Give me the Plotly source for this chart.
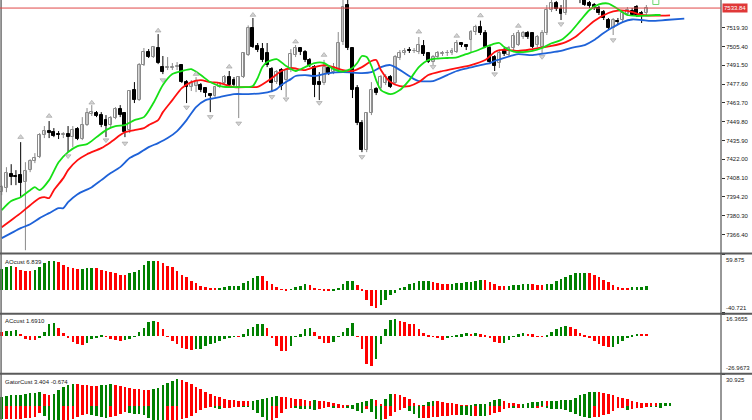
import plotly.graph_objects as go

# ---------------- price data (bar index 0..136) ----------------
opens = [7397.7,7400.7,7411.0,7409.6,7410.3,7405.1,7414.0,7420.7,7423.6,7439.9,
         7442.9,7442.1,7440.6,7440.3,7440.6,7438.4,7444.3,7437.0,7447.3,7455.4,
         7456.2,7454.7,7451.0,7447.3,7452.5,7459.1,7456.2,7443.6,7473.2,7465.8,
         7491.7,7501.3,7497.6,7504.3,7490.2,7489.5,7489.5,7490.6,7491.7,7479.1,
         7475.4,7476.2,7476.9,7474.7,7470.2,7468.8,7475.4,7478.4,7482.8,7480.6,
         7475.4,7482.8,7499.1,7519.1,7505.8,7503.5,7500.6,7488.7,7479.1,7488.0,
         7480.6,7488.0,7499.1,7504.3,7501.3,7495.4,7490.2,7479.1,7478.4,7489.5,
         7486.5,7488.0,7508.7,7536.1,7504.3,7474.7,7448.8,7428.8,7456.2,7473.9,
         7474.7,7478.4,7482.8,7478.4,7496.9,7500.6,7502.8,7502.1,7501.3,7505.8,
         7500.6,7493.9,7497.6,7500.2,7500.6,7500.6,7501.3,7508.0,7506.5,7510.2,
         7516.1,7519.8,7515.4,7504.3,7497.6,7493.2,7502.8,7499.1,7504.3,7506.5,
         7512.4,7515.4,7515.4,7506.5,7505.0,7515.4,7532.4,7537.6,7533.1,7530.2,
         7543.5,7548.7,7544.2,7539.8,7537.6,7536.1,7533.9,7530.9,7525.0,7519.1,
         7524.3,7525.0,7529.4,7531.7,7534.6,7530.2,7530.2]
highs = [7402.9,7416.2,7418.4,7414.0,7434.7,7419.9,7422.1,7426.6,7441.4,7446.6,
         7450.3,7445.1,7442.9,7442.1,7446.6,7446.6,7445.8,7453.2,7459.9,7462.1,
         7457.7,7456.9,7454.7,7454.0,7460.6,7462.1,7456.9,7473.2,7479.1,7493.2,
         7504.3,7503.5,7505.8,7514.6,7498.4,7497.6,7493.2,7493.9,7492.4,7480.6,
         7480.6,7482.8,7478.4,7475.4,7471.0,7476.2,7479.1,7484.3,7487.3,7482.8,
         7483.6,7501.3,7521.0,7526.5,7508.0,7508.0,7508.0,7490.2,7488.0,7489.5,
         7489.5,7503.5,7506.5,7505.0,7502.8,7496.9,7491.7,7486.5,7495.5,7491.7,
         7493.2,7516.1,7548.0,7546.0,7505.0,7476.9,7451.0,7456.9,7479.1,7475.4,
         7484.3,7485.0,7484.3,7499.1,7502.8,7504.3,7505.0,7504.3,7512.4,7510.2,
         7501.3,7499.1,7502.1,7502.1,7502.8,7504.3,7510.2,7508.7,7507.2,7517.6,
         7521.5,7524.5,7517.6,7505.8,7499.1,7502.8,7504.3,7505.8,7515.4,7517.6,
         7516.9,7516.9,7516.1,7513.9,7517.6,7536.1,7540.5,7539.1,7536.1,7545.7,
         7552.0,7551.0,7547.0,7542.0,7539.1,7537.6,7535.4,7532.4,7526.5,7526.5,
         7526.5,7532.4,7534.6,7533.9,7536.1,7531.7,7536.1]
lows = [7395.5,7397.7,7402.9,7402.9,7394.0,7354.8,7412.5,7419.2,7422.9,7437.7,
        7437.7,7438.4,7437.0,7437.7,7427.3,7431.0,7436.2,7436.2,7446.6,7454.0,
        7453.2,7445.8,7438.4,7445.8,7451.7,7453.2,7438.4,7441.4,7463.6,7465.1,
        7491.0,7496.9,7496.9,7492.4,7485.0,7488.0,7488.0,7488.0,7478.4,7463.6,
        7472.5,7471.7,7471.7,7468.0,7456.9,7468.0,7474.7,7476.9,7475.4,7476.2,
        7452.5,7482.1,7498.4,7504.3,7501.3,7493.9,7490.2,7471.7,7477.7,7473.2,
        7468.0,7486.5,7497.6,7499.1,7493.9,7490.2,7468.0,7465.8,7476.9,7484.3,
        7485.0,7486.5,7506.5,7502.8,7467.3,7447.3,7427.3,7427.3,7454.7,7469.5,
        7473.2,7476.9,7474.7,7476.9,7495.4,7499.1,7500.6,7500.6,7499.8,7498.4,
        7493.2,7491.7,7496.2,7498.4,7498.4,7499.1,7500.6,7505.0,7502.8,7501.3,
        7513.9,7513.9,7504.3,7492.4,7487.3,7489.5,7498.4,7497.6,7502.8,7505.8,
        7511.0,7511.0,7504.3,7505.0,7500.6,7513.9,7530.9,7531.7,7525.0,7528.7,
        7541.0,7541.0,7537.5,7535.4,7533.9,7532.4,7528.7,7525.0,7517.6,7513.9,
        7522.0,7523.5,7528.0,7528.0,7527.2,7522.8,7528.7]
closes = [7401.4,7411.8,7408.8,7409.2,7404.4,7413.3,7420.7,7422.9,7439.9,7442.9,
          7441.4,7439.2,7440.3,7440.6,7438.4,7443.6,7437.0,7447.3,7456.2,7456.9,
          7454.0,7447.3,7446.6,7452.5,7459.1,7454.7,7442.1,7472.5,7465.8,7491.7,
          7501.3,7497.6,7505.0,7493.2,7486.5,7490.2,7490.6,7491.3,7479.1,7475.4,
          7478.4,7479.9,7473.2,7471.0,7468.8,7475.4,7478.4,7482.8,7476.9,7476.9,
          7482.8,7500.6,7519.1,7505.0,7502.8,7495.4,7491.7,7478.4,7486.5,7476.2,
          7488.0,7499.8,7504.3,7501.3,7495.4,7491.7,7476.9,7476.9,7490.2,7485.8,
          7490.2,7508.0,7534.6,7504.3,7473.2,7448.8,7428.8,7456.2,7473.2,7471.0,
          7482.8,7482.8,7475.4,7497.6,7500.6,7502.1,7502.4,7502.4,7506.5,7499.8,
          7493.9,7497.6,7500.6,7500.6,7500.9,7502.1,7508.0,7506.5,7505.0,7516.1,
          7519.8,7515.4,7505.0,7493.9,7491.0,7500.6,7499.8,7504.3,7513.2,7515.4,
          7515.4,7512.4,7505.0,7512.4,7515.4,7532.4,7537.6,7533.1,7529.4,7543.5,
          7548.7,7544.2,7539.8,7536.1,7535.4,7533.9,7530.2,7526.5,7519.1,7525.0,
          7523.5,7530.2,7532.4,7528.7,7528.7,7529.4,7533.84]
bars = list(range(len(closes)))
last_price = 7533.84

# ---------------- Alligator lines (bar index, price) ----------------
jaw_idx = [0,2,4,6,8,10,12,13,14,16,19,21,23,25,27,29,31,33,35,37,39,41,43,46,49,52,55,57,58,59,
           61,62,64,66,69,72,76,78,80,82,83,85,87,88,91,94,96,99,101,103,104,105,108,109,112,115,
           118,120,123,125,127,129,131,133,135,137,140,144]
jaw_val = [7363.7,7367.4,7371.1,7374.0,7378.5,7382.2,7385.9,7385.9,7390.3,7396.2,7401.4,7406.6,
           7411.8,7416.2,7422.9,7426.6,7431.0,7434.0,7437.7,7442.9,7451.0,7460.6,7465.8,7468.0,
           7470.2,7470.2,7471.0,7472.5,7473.9,7476.9,7481.3,7483.6,7484.3,7483.6,7485.8,7486.5,
           7485.8,7486.5,7490.2,7491.7,7490.2,7485.8,7481.3,7479.9,7479.9,7484.3,7487.3,7489.9,
           7491.7,7493.2,7494.7,7495.8,7499.1,7499.8,7499.1,7500.6,7502.1,7504.3,7506.5,7510.2,
           7515.4,7519.8,7523.5,7525.4,7525.0,7524.3,7525.0,7526.1]
teeth_idx = [0,2,4,6,8,9,10,11,13,14,16,18,21,23,25,26,28,30,31,33,34,36,38,40,42,44,46,49,52,54,
             57,59,61,64,66,68,70,72,74,76,78,79,80,82,84,86,88,90,93,96,99,102,104,105,107,109,
             112,116,119,121,123,125,128,130,132,134,135,138,141]
teeth_val = [7371.8,7377.0,7382.2,7388.1,7393.3,7394.0,7393.3,7399.2,7408.1,7414.0,7421.4,7425.8,
             7430.3,7434.7,7439.9,7442.1,7443.6,7445.1,7447.3,7451.0,7456.9,7465.8,7474.7,7479.1,
             7480.6,7479.1,7478.4,7475.4,7475.4,7475.6,7482.1,7487.3,7489.5,7488.0,7490.2,7491.7,
             7490.2,7488.0,7487.3,7490.2,7494.7,7495.4,7488.0,7479.1,7476.2,7476.2,7479.1,7484.3,
             7487.3,7489.5,7491.7,7495.4,7501.3,7502.8,7502.8,7502.1,7503.5,7505.8,7508.7,7512.4,
             7518.3,7524.3,7530.2,7532.0,7531.7,7529.8,7528.7,7528.2,7528.5]
lips_idx = [0,2,4,6,7,8,10,12,14,16,18,20,22,24,26,28,30,32,34,36,38,40,42,44,46,48,50,52,53,54,
            55,56,58,60,62,64,66,68,70,72,74,75,76,77,78,79,80,82,84,86,88,90,92,94,96,98,100,102,
            104,105,106,108,110,112,114,116,118,120,122,124,126,128,130,132,134,136,138,139]
lips_val = [7384.4,7391.1,7394.0,7399.2,7401.4,7399.2,7406.6,7419.9,7427.3,7431.8,7433.2,7438.4,
            7443.6,7446.6,7447.3,7451.0,7453.2,7463.6,7476.9,7485.0,7487.3,7488.7,7484.3,7479.1,
            7476.2,7475.4,7475.4,7475.4,7476.2,7482.1,7490.2,7493.9,7496.1,7491.0,7487.3,7490.2,
            7493.2,7493.2,7488.7,7486.9,7489.5,7493.2,7498.4,7497.6,7491.0,7480.6,7473.2,7470.2,
            7473.2,7480.6,7490.2,7495.4,7496.5,7496.9,7497.4,7499.8,7502.1,7505.0,7507.6,7508.0,
            7505.0,7501.7,7501.3,7502.1,7504.3,7507.8,7510.2,7516.1,7524.3,7532.4,7536.5,7537.2,
            7533.1,7528.7,7528.0,7528.2,7528.7,7528.7]

# ---------------- Fractals ----------------
frac_up_idx = [4,10,19,33,41,48,53,62,68,88,96,101,109]
frac_up_val = [7438.4,7454.0,7463.8,7517.1,7485.0,7490.4,7528.7,7509.0,7499.1,7516.3,7513.2,7528.3,7520.6]
frac_dn_idx = [14,22,26,34,39,44,50,57,60,67,76,91,104,114,118,129]
frac_dn_val = [7424.4,7436.2,7433.8,7480.6,7460.4,7453.4,7448.6,7468.2,7466.5,7463.8,7423.8,7490.4,
               7485.0,7497.8,7522.0,7510.2]
signal_idx = [138]
signal_val = [7538.7]

# ---------------- AO ----------------
ao_before = 34.0
ao = [35.8,38.6,40.3,39.8,34.6,32.9,32.5,34.6,38.6,46.0,48.8,48.9,47.1,43.2,39.8,36.9,35.8,35.9,36.9,37.5,
      37.4,34.6,31.8,30.1,29.0,26.1,26.0,28.4,30.1,34.6,43.2,48.8,50.0,49.9,46.0,41.5,38.6,31.8,26.1,21.6,
      14.8,11.9,6.8,4.5,3.4,2.8,2.9,4.5,5.7,6.2,6.8,11.9,15.9,20.4,24.4,24.3,15.9,10.2,4.5,-0.3,
      -0.4,0.6,4.5,7.4,10.2,9.1,2.8,-0.2,-1.1,-2.3,-1.1,3.4,10.2,14.8,14.9,9.1,-2.3,-18.2,-28.4,-30.7,
      -26.7,-18.2,-9.7,-5.7,1.7,4.5,10.2,12.5,14.8,15.3,15.4,13.1,11.9,10.2,9.7,10.8,11.9,12.5,13.1,14.2,
      15.3,17.0,16.5,14.2,10.2,7.4,5.7,6.2,8.5,9.1,9.7,9.9,9.7,9.1,8.8,9.7,10.8,14.8,18.7,22.7,
      26.1,28.4,29.0,29.3,29.0,26.1,22.7,17.6,13.1,8.0,4.5,2.8,2.3,4.0,4.5,5.1,6.839]
ao_max, ao_min = 59.875, -40.721

# ---------------- AC ----------------
ac_before = 3.5
ac = [2.9,3.7,3.9,4.2,1.7,-2.4,-2.9,-3.2,-1.2,3.2,9.3,9.8,6.1,2.4,-1.2,-4.4,-6.1,-6.3,-5.4,-2.4,
      -0.7,0.4,-0.5,-2.0,-3.2,-3.3,-3.0,-2.4,-0.5,2.9,6.1,10.3,11.5,10.3,5.4,-0.5,-3.7,-6.1,-8.6,-9.8,
      -10.3,-9.8,-9.3,-7.3,-6.1,-4.9,-3.7,-2.4,-1.2,-0.5,-0.6,1.2,4.9,6.9,8.6,9.3,6.1,-1.2,-7.3,-10.8,
      -11.0,-7.3,-0.5,1.2,4.9,6.1,2.9,-2.0,-4.9,-5.4,-4.4,-0.5,2.9,6.1,9.8,-0.2,-9.8,-20.8,-22.0,-16.6,
      -6.1,5.4,11.8,12.7,11.5,10.5,9.3,8.6,5.6,2.4,0.5,-0.2,-1.2,-2.9,-1.2,-0.5,0.5,1.2,2.0,1.9,
      2.4,1.2,0.5,-1.2,-4.4,-5.4,-4.9,-2.9,-0.5,1.2,2.0,1.9,1.2,-0.5,-0.6,0.5,2.9,4.9,6.9,7.8,
      6.9,4.9,2.4,0.5,-1.2,-3.7,-5.6,-7.3,-8.1,-7.8,-6.1,-3.7,-1.2,0.5,1.9,1.8,1.691]
ac_max, ac_min = 16.3655, -26.9673

# ---------------- Gator ----------------
gator_up_before = 9.5
gator_up = [9.7,10.3,10.8,11.2,11.6,12.2,12.8,13.5,14.2,11.8,11.0,12.2,16.1,19.3,21.3,22.0,21.8,21.3,20.9,20.6,
            20.4,20.8,21.3,21.8,21.4,20.6,19.5,18.4,17.4,16.8,16.5,16.2,16.8,18.5,21.0,23.5,25.5,26.7,26.0,24.3,
            22.0,19.5,17.0,14.2,12.0,10.3,9.0,7.7,6.8,6.2,5.8,5.5,5.2,5.6,6.2,6.9,8.4,9.6,10.0,9.5,
            8.9,8.2,7.6,6.9,6.0,5.4,5.9,5.5,5.0,4.3,3.5,2.5,1.5,1.0,1.9,3.2,4.4,5.8,7.0,6.2,
            2.2,7.4,12.6,12.6,11.3,9.6,7.3,3.7,0.8,1.8,4.4,5.4,5.0,4.5,3.7,3.0,2.2,1.7,1.4,1.9,
            2.3,2.6,2.9,4.4,6.2,7.0,5.4,3.8,3.0,2.3,2.8,3.4,4.4,4.8,5.2,5.0,5.4,5.8,6.2,6.6,
            6.7,8.5,10.8,12.6,13.9,14.3,14.1,13.6,12.6,11.2,9.8,8.5,6.9,5.3,4.4,3.7,3.5,3.3,3.2,3.3,
            3.35,3.404]
gator_dn_before = -12.0
gator_dn = [-12.6,-12.4,-12.2,-12.0,-11.8,-11.3,-11.0,-10.7,-6.0,-9.5,-13.3,-15.5,-16.9,-15.2,-13.3,-11.8,-10.4,-8.8,-7.4,-8.5,
            -9.6,-10.5,-11.1,-10.2,-9.3,-7.0,-5.2,-6.3,-7.4,-7.8,-8.1,-11.0,-14.6,-17.8,-20.0,-19.8,-19.2,-16.0,-12.6,-11.0,
            -9.6,-6.5,-3.7,-1.8,-0.3,-1.2,-2.2,-1.6,-1.0,-0.5,-0.2,-0.3,-0.5,-3.0,-6.5,-10.8,-14.9,-13.5,-11.0,-6.5,
            -2.5,-0.8,-1.7,-2.0,-2.2,-2.6,-3.0,-2.2,-1.5,-0.3,-1.5,-1.3,-1.1,-1.6,-2.2,-4.2,-6.0,-2.5,-5.0,-12.0,
            -14.8,-11.9,-8.9,-5.9,-3.0,-0.7,-4.4,-7.8,-11.1,-11.1,-11.1,-10.7,-10.2,-9.4,-8.9,-8.4,-7.9,-8.4,-8.8,-9.3,
            -9.1,-9.3,-9.6,-7.9,-6.3,-5.2,-2.2,-0.6,-0.8,-0.6,-0.7,-1.1,-1.4,-0.8,-0.3,-0.8,-2.0,-2.2,-2.5,-3.5,
            -5.6,-7.8,-8.9,-10.1,-11.1,-10.2,-10.2,-8.7,-7.0,-4.0,-1.1,-1.0,-3.0,-2.4,-1.8,-0.6,-0.2,-0.4,-0.5,-0.674]
gator_top = 30.925

price_ticks = [7366.4,7380.3,7394.2,7408.1,7422.0,7435.9,7449.8,7463.7,7477.6,7491.5,7505.4,7519.3]

# ---------------- styling constants ----------------
GREEN = "#008000"
RED = "#ff0000"
FONT = "Liberation Sans"
X_RANGE = [-0.36, 151.75]
PRICE_RANGE = [7353.1, 7539.8]


def colors_rising(values, before, use_abs=False):
    out = []
    prev = before
    for v in values:
        a, b = (abs(v), abs(prev)) if use_abs else (v, prev)
        out.append(GREEN if a > b else RED)
        prev = v
    return out


fig = go.Figure()

# candles: wicks
bull_x, bull_y, bear_x, bear_y = [], [], [], []
for i in bars:
    if closes[i] >= opens[i]:
        bull_x += [i, i, None]; bull_y += [lows[i], highs[i], None]
    else:
        bear_x += [i, i, None]; bear_y += [lows[i], highs[i], None]
fig.add_trace(go.Scatter(x=bull_x, y=bull_y, mode="lines", line=dict(color="#8a8a8a", width=1),
                         hoverinfo="skip", xaxis="x", yaxis="y"))
fig.add_trace(go.Scatter(x=bear_x, y=bear_y, mode="lines", line=dict(color="#000000", width=1),
                         hoverinfo="skip", xaxis="x", yaxis="y"))

# candles: bodies
bi = [i for i in bars if closes[i] >= opens[i]]
si = [i for i in bars if closes[i] < opens[i]]
fig.add_trace(go.Bar(x=bi, base=[opens[i] for i in bi],
                     y=[max(closes[i] - opens[i], 0.25) for i in bi], width=0.62,
                     marker=dict(color="#ffffff", line=dict(color="#8a8a8a", width=1)),
                     xaxis="x", yaxis="y"))
fig.add_trace(go.Bar(x=si, base=[closes[i] for i in si],
                     y=[max(opens[i] - closes[i], 0.25) for i in si], width=0.62,
                     marker=dict(color="#000000", line=dict(color="#000000", width=1)),
                     xaxis="x", yaxis="y"))

# alligator
for xs, ys, col in [(jaw_idx, jaw_val, "#1e62d8"), (teeth_idx, teeth_val, "#ff1010"),
                    (lips_idx, lips_val, "#16e016")]:
    fig.add_trace(go.Scatter(x=xs, y=ys, mode="lines",
                             line=dict(color=col, width=1.8, shape="spline", smoothing=0.7),
                             xaxis="x", yaxis="y"))

# fractals
fig.add_trace(go.Scatter(x=frac_up_idx, y=frac_up_val, mode="markers",
                         marker=dict(symbol="triangle-up", size=5, color="#d4d4d4",
                                     line=dict(color="#9a9a9a", width=0.6)),
                         xaxis="x", yaxis="y"))
fig.add_trace(go.Scatter(x=frac_dn_idx, y=frac_dn_val, mode="markers",
                         marker=dict(symbol="triangle-down", size=5, color="#d4d4d4",
                                     line=dict(color="#9a9a9a", width=0.6)),
                         xaxis="x", yaxis="y"))
fig.add_trace(go.Scatter(x=signal_idx, y=signal_val, mode="markers",
                         marker=dict(symbol="square-open", size=6, color="#70d870",
                                     line=dict(width=1)),
                         xaxis="x", yaxis="y"))

# AO
fig.add_trace(go.Bar(x=bars, y=ao, width=0.55, marker=dict(color=colors_rising(ao, ao_before), line=dict(width=0)),
                     xaxis="x2", yaxis="y2"))
# AC
fig.add_trace(go.Bar(x=bars, y=ac, width=0.55, marker=dict(color=colors_rising(ac, ac_before), line=dict(width=0)),
                     xaxis="x3", yaxis="y3"))
# Gator
fig.add_trace(go.Bar(x=list(range(len(gator_up))), y=gator_up, width=0.55,
                     marker=dict(color=colors_rising(gator_up, gator_up_before), line=dict(width=0)),
                     xaxis="x4", yaxis="y4"))
fig.add_trace(go.Bar(x=list(range(len(gator_dn))), y=gator_dn, width=0.55,
                     marker=dict(color=colors_rising(gator_dn, gator_dn_before, use_abs=True), line=dict(width=0)),
                     xaxis="x4", yaxis="y4"))

# ---------------- layout ----------------
D_MAIN = [0.3988, 1.0]
D_AO = [0.2548, 0.3940]
D_AC = [0.1119, 0.2512]
D_GT = [0.0, 0.1083]

xcommon = dict(range=X_RANGE, showgrid=False, zeroline=False, showticklabels=False,
               ticks="", showline=False, fixedrange=True)
ycommon = dict(showgrid=False, zeroline=False, side="right", ticks="outside", ticklen=3,
               tickcolor="#303030", showline=False, fixedrange=True,
               tickfont=dict(family=FONT, size=6, color="#202020"))

fig.update_layout(
    width=752, height=420, margin=dict(l=0, r=31, t=0, b=0),
    paper_bgcolor="white", plot_bgcolor="white", showlegend=False,
    barmode="overlay", bargap=0,
    xaxis=dict(domain=[0, 1], anchor="y", **xcommon),
    xaxis2=dict(domain=[0, 1], anchor="y2", matches="x", **xcommon),
    xaxis3=dict(domain=[0, 1], anchor="y3", matches="x", **xcommon),
    xaxis4=dict(domain=[0, 1], anchor="y4", matches="x", **xcommon),
    yaxis=dict(domain=D_MAIN, anchor="x", range=PRICE_RANGE, tickvals=price_ticks,
               ticktext=[f"{v:.2f}" for v in price_ticks], **ycommon),
    yaxis2=dict(domain=D_AO, anchor="x2", range=[ao_min, ao_max], tickvals=[ao_min, ao_max],
                ticktext=["", ""], **ycommon),
    yaxis3=dict(domain=D_AC, anchor="x3", range=[ac_min, ac_max], tickvals=[ac_min, ac_max],
                ticktext=["", ""], **ycommon),
    yaxis4=dict(domain=D_GT, anchor="x4", range=[-13.75, gator_top], tickvals=[gator_top],
                ticktext=[""], **ycommon),
)

shapes = [
    dict(type="line", xref="paper", yref="paper", x0=1, x1=1, y0=0, y1=1,
         line=dict(color="#303030", width=1)),
    dict(type="line", xref="paper", yref="paper", x0=0.0015, x1=0.0015, y0=0, y1=1,
         line=dict(color="#707070", width=1.5)),
    dict(type="line", xref="paper", yref="y", x0=0, x1=1, y0=last_price, y1=last_price,
         line=dict(color="#e04848", width=1)),
]
for ysep in [0.3964, 0.2531, 0.1102]:
    shapes.append(dict(type="line", xref="paper", yref="paper", x0=0, x1=1.05, y0=ysep, y1=ysep,
                       line=dict(color="#5a5a5a", width=2)))
fig.update_layout(shapes=shapes)

ann = []
lab_font = dict(family=FONT, size=6, color="#202020")
ann.append(dict(xref="paper", yref="y", x=1, y=last_price, xanchor="left", yanchor="middle",
                xshift=1, text=f"{last_price:.2f}", showarrow=False, bgcolor="#e03838",
                borderpad=1, font=dict(family=FONT, size=6, color="white")))
for txt, dom in [(f"AOcust {ao[-1]}", D_AO), (f"ACcust {ac[-1]:.4f}", D_AC),
                 (f"GatorCust {gator_up[-1]} {gator_dn[-1]}", D_GT)]:
    ann.append(dict(xref="paper", yref="paper", x=0, y=dom[1], xanchor="left", yanchor="top",
                    xshift=3, yshift=-2, text=txt, showarrow=False, font=lab_font))
for txt, yref, yv, anc in [(f"{ao_max}", "y2", ao_max, "top"), (f"{ao_min}", "y2", ao_min, "bottom"),
                           (f"{ac_max}", "y3", ac_max, "top"), (f"{ac_min}", "y3", ac_min, "bottom"),
                           (f"{gator_top}", "y4", gator_top, "top")]:
    ann.append(dict(xref="paper", yref=yref, x=1, y=yv, xanchor="left", yanchor=anc, xshift=3,
                    text=txt, showarrow=False, font=lab_font))
fig.update_layout(annotations=ann)

fig.write_html("out.html", config={"displayModeBar": False},
               post_script="document.body.style.margin='0';document.body.style.overflow='hidden';")
